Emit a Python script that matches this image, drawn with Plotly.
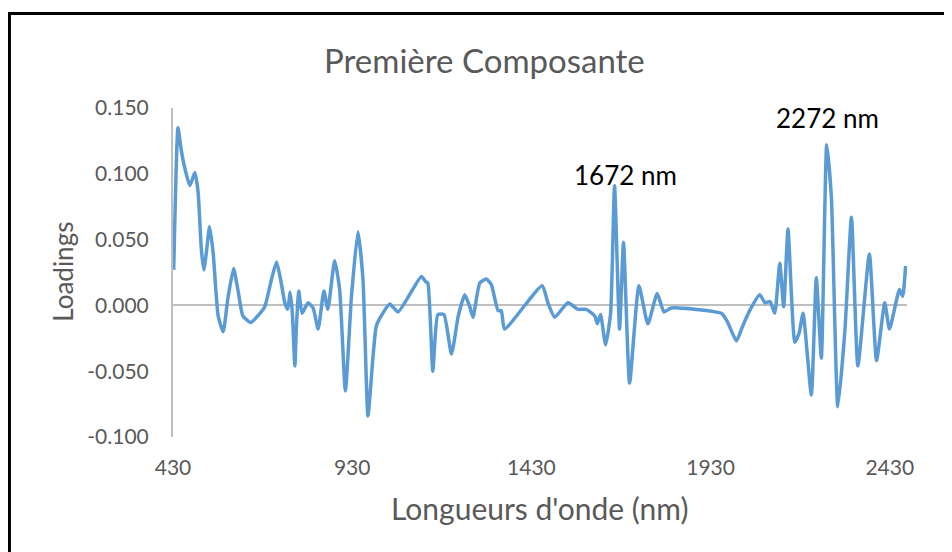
#!/usr/bin/env python3
"""plot.py — loadings of the first principal component vs wavelength."""

import plotly.graph_objects as go

# ── data ─────────────────────────────────────────────────────────────────────
wavelength_nm = [
    432, 444, 453, 465, 477, 491, 500, 509, 516, 523,
    532, 542, 556, 570, 583, 599, 611, 625, 647, 663,
    686, 705, 719, 732, 742, 750, 757, 763, 770, 774,
    781, 790, 807, 821, 835, 851, 862, 881, 895, 911,
    928, 946, 960, 974, 988, 997, 1011, 1035, 1058, 1123,
    1135, 1141, 1155, 1169, 1186, 1207, 1226, 1244, 1258, 1267,
    1286, 1304, 1318, 1337, 1346, 1355, 1460, 1476, 1495, 1532,
    1560, 1583, 1607, 1614, 1623, 1637, 1651, 1662, 1676, 1687,
    1704, 1730, 1755, 1781, 1800, 1820, 1960, 1978, 2002, 2019,
    2039, 2067, 2082, 2096, 2109, 2123, 2134, 2146, 2165, 2177,
    2188, 2211, 2225, 2239, 2254, 2267, 2285, 2305, 2323, 2341,
    2373, 2393, 2416, 2429, 2457, 2466, 2474,
]
loadings = [
    0.027, 0.135, 0.118, 0.102, 0.091, 0.101, 0.086, 0.043, 0.027, 0.040,
    0.060, 0.040, -0.008, -0.020, 0.005, 0.028, 0.012, -0.008, -0.013, -0.009,
    -0.001, 0.020, 0.033, 0.017, 0.002, -0.003, 0.010, -0.006, -0.046, -0.018,
    0.011, -0.006, 0.002, -0.002, -0.018, 0.011, -0.003, 0.034, 0.012, -0.065,
    0.007, 0.056, 0.020, -0.084, -0.039, -0.016, -0.008, 0.001, -0.005, 0.022,
    0.018, 0.017, -0.050, -0.007, -0.007, -0.037, -0.008, 0.008, -0.001, -0.009,
    0.017, 0.020, 0.016, -0.004, -0.004, -0.018, 0.015, 0.002, -0.009, 0.002,
    -0.003, -0.003, -0.008, -0.014, -0.007, -0.030, -0.006, 0.091, -0.018, 0.048,
    -0.059, 0.015, -0.014, 0.009, -0.005, -0.002, -0.006, -0.013, -0.027, -0.016,
    -0.004, 0.008, 0.002, 0.003, -0.006, 0.032, -0.001, 0.058, -0.028, -0.021,
    -0.006, -0.068, 0.021, -0.040, 0.122, 0.082, -0.077, -0.018, 0.067, -0.046,
    0.039, -0.042, 0.002, -0.018, 0.012, 0.007, 0.030,
]
x_ticks = [430, 930, 1430, 1930, 2430]
y_ticks = [-0.100, -0.050, 0.000, 0.050, 0.100, 0.150]
peak_labels = ["1672 nm", "2272 nm"]

FONT = "Lato, 'Open Sans', sans-serif"
GREY = "#595959"
AXIS = "#bfbfbf"

fig = go.Figure(go.Scatter(
    x=wavelength_nm, y=loadings, mode="lines",
    line=dict(color="#5b9bd5", width=3.5, shape="spline", smoothing=0.5),
    showlegend=False,
))

# the page has an 8px body margin, so the figure is laid out 8px up-left
fig.update_layout(
    width=952, height=552,
    margin=dict(l=165, r=53, t=100, b=123),
    paper_bgcolor="white", plot_bgcolor="white",
    font=dict(family=FONT, color=GREY),
)
fig.update_xaxes(
    range=[430, 2478], tickvals=x_ticks, ticktext=[str(t) for t in x_ticks],
    showgrid=False, zeroline=False, showline=False, ticks="",
    tickfont=dict(size=21, color=GREY), ticklabelstandoff=16,
)
fig.update_yaxes(
    range=[-0.1, 0.15], tickvals=y_ticks,
    ticktext=[f"{t:.3f}" for t in y_ticks],
    showgrid=False, zeroline=True, zerolinecolor=AXIS, zerolinewidth=2,
    showline=True, linecolor=AXIS, linewidth=2, ticks="",
    tickfont=dict(size=21, color=GREY), ticklabelstandoff=18,
)

# ── titles and peak labels (paper coords) ───────────────────────────────────
notes = [
    ("Première Composante", 0.425, 1.146, 33, GREY, 0),
    ("Loadings", -0.150, 0.502, 26, GREY, -90),
    ("Longueurs d'onde (nm)", 0.500, -0.216, 30, GREY, 0),
    (peak_labels[0], 0.617, 0.796, 26, "black", 0),
    (peak_labels[1], 0.892, 0.970, 26, "black", 0),
]
for text, x, y, size, color, angle in notes:
    fig.add_annotation(text=text, x=x, y=y, xref="paper", yref="paper",
                       xanchor="center", yanchor="middle",
                       showarrow=False, textangle=angle,
                       font=dict(family=FONT, size=size, color=color))

# black frame round the chart area
fig.add_shape(type="rect", xref="paper", yref="paper",
              x0=-0.2228, x1=1.0545, y0=-0.40, y1=1.2872,
              line=dict(color="black", width=3))

fig.write_html("out.html")
